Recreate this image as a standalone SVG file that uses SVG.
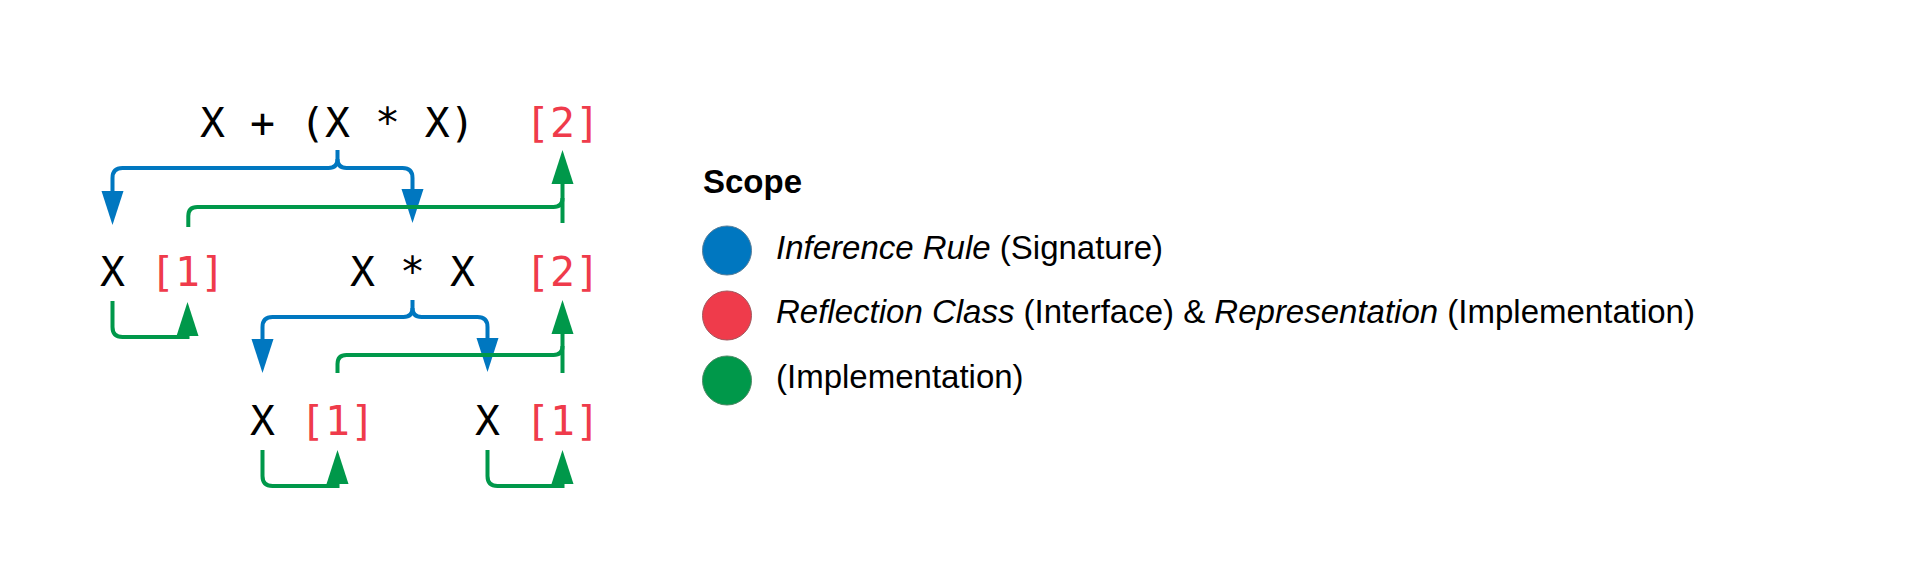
<svg xmlns="http://www.w3.org/2000/svg" width="1913" height="563" viewBox="0 0 1913 563">
  <style>
    .mono { font-family: "DejaVu Sans Mono", "Liberation Mono", monospace; font-size: 41.5px; fill: #000; }
    .red { fill: #EF3B4B; }
    .leg { font-family: "Liberation Sans", Arial, sans-serif; font-size: 33px; fill: #000; }
    .it { font-style: italic; }
    .b { fill: none; stroke: #0077C0; stroke-width: 4; }
    .g { fill: none; stroke: #00984A; stroke-width: 4; }
  </style>
  <defs>
    <marker id="ab" markerUnits="userSpaceOnUse" markerWidth="34" markerHeight="22" viewBox="0 0 34 22" refX="0" refY="11" orient="auto" overflow="visible">
      <path d="M0,0 L34,11 L0,22 Z" fill="#0077C0"/>
    </marker>
    <marker id="ag" markerUnits="userSpaceOnUse" markerWidth="34" markerHeight="22" viewBox="0 0 34 22" refX="0" refY="11" orient="auto" overflow="visible">
      <path d="M0,0 L34,11 L0,22 Z" fill="#00984A"/>
    </marker>
  </defs>
  <rect width="1913" height="563" fill="#fff"/>

  <g id="node-root">
    <text class="mono" x="200" y="137">X + (X * X)</text>
    <text class="mono red" x="525" y="137">[2]</text>
  </g>
  <g id="node-left-x">
    <text class="mono" x="100" y="286">X</text>
    <text class="mono red" x="150" y="286">[1]</text>
  </g>
  <g id="node-mul">
    <text class="mono" x="350" y="286">X * X</text>
    <text class="mono red" x="525" y="286">[2]</text>
  </g>
  <g id="node-mul-left-x">
    <text class="mono" x="250" y="435">X</text>
    <text class="mono red" x="300" y="435">[1]</text>
  </g>
  <g id="node-mul-right-x">
    <text class="mono" x="475" y="435">X</text>
    <text class="mono red" x="525" y="435">[1]</text>
  </g>

  <g id="connectors">
    <!-- row 1 blue brace -->
    <path class="b" d="M337.5,150 V159 Q337.5,168 328.5,168 H122.5 Q112.5,168 112.5,178 V191" marker-end="url(#ab)"/>
    <path class="b" d="M337.5,159 Q337.5,168 346.5,168 H402.5 Q412.5,168 412.5,178 V189" marker-end="url(#ab)"/>
    <!-- row 1 green -->
    <path class="g" d="M562.5,223 V184" marker-end="url(#ag)"/>
    <path class="g" d="M188.3,227 V216 Q188.3,207 197.3,207 H553.5 Q562.5,207 562.5,198"/>
    <!-- row 2 left green -->
    <path class="g" d="M112.5,301 V327 Q112.5,337 122.5,337 H187.5 V336" marker-end="url(#ag)"/>
    <!-- row 2 blue brace -->
    <path class="b" d="M412.5,300 V308 Q412.5,317 403.5,317 H272.5 Q262.5,317 262.5,327 V339" marker-end="url(#ab)"/>
    <path class="b" d="M412.5,308 Q412.5,317 421.5,317 H477.5 Q487.5,317 487.5,327 V338" marker-end="url(#ab)"/>
    <!-- row 2 right green -->
    <path class="g" d="M562.5,373 V334" marker-end="url(#ag)"/>
    <path class="g" d="M337.5,373 V364 Q337.5,355 346.5,355 H553.5 Q562.5,355 562.5,346"/>
    <!-- row 3 green -->
    <path class="g" d="M262.5,450 V476 Q262.5,486 272.5,486 H337.5 V484" marker-end="url(#ag)"/>
    <path class="g" d="M487.5,450 V476 Q487.5,486 497.5,486 H562.5 V484" marker-end="url(#ag)"/>
  </g>

  <g id="legend">
    <text class="leg" x="703" y="193" font-weight="bold">Scope</text>
    <ellipse cx="727" cy="250.5" rx="24.5" ry="24.5" fill="#0077C0" stroke="#5a7f99" stroke-width="1"/>
    <ellipse cx="727" cy="315.5" rx="24.5" ry="24.5" fill="#EF3B4B" stroke="#a0585e" stroke-width="1"/>
    <ellipse cx="727" cy="380.5" rx="24.5" ry="24.5" fill="#00984A" stroke="#4f8a66" stroke-width="1"/>
    <text class="leg" x="776" y="258.5"><tspan class="it">Inference Rule</tspan> (Signature)</text>
    <text class="leg" x="776" y="323"><tspan class="it">Reflection Class</tspan> (Interface) &amp; <tspan class="it">Representation</tspan> (Implementation)</text>
    <text class="leg" x="776" y="387.5">(Implementation)</text>
  </g>
</svg>
